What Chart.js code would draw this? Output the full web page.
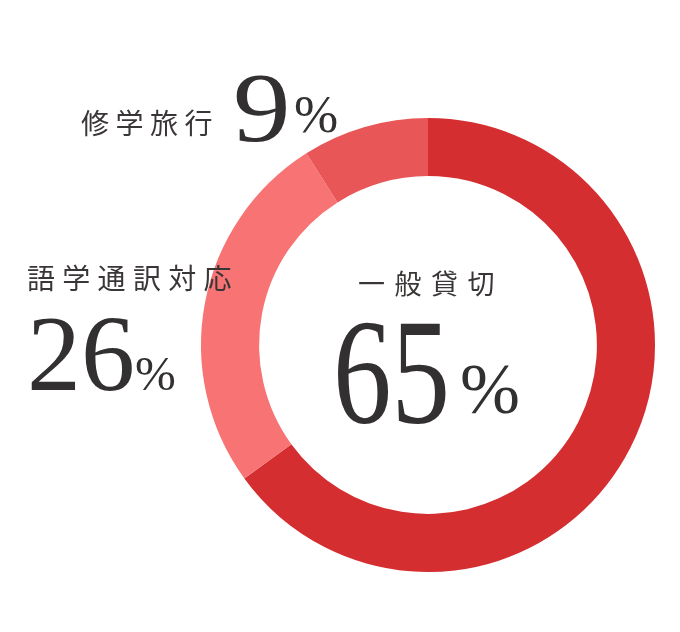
<!DOCTYPE html>
<html><head><meta charset="utf-8">
<script src="https://cdn.jsdelivr.net/npm/chart.js@4.4.0/dist/chart.umd.min.js"></script>
<style>
html,body{margin:0;padding:0;background:#fff;}
#wrap{position:relative;width:680px;height:632px;overflow:hidden;}
canvas{position:absolute;left:0;top:0;}
.t{position:absolute;white-space:nowrap;line-height:1;color:#333031;}
.jp{font-family:"Noto Sans CJK JP","Noto Sans",sans-serif;font-weight:400;color:#3a3636;}
.num{font-family:"Liberation Serif","DejaVu Serif",serif;}
</style></head>
<body><div id="wrap">
<canvas id="c" width="680" height="632"></canvas>
<div class="t jp" id="l0"></div>
<div class="t num" id="n0"></div>
<div class="t num" id="p0"></div>
<div class="t jp" id="l1"></div>
<div class="t num" id="n1"></div>
<div class="t num" id="p1"></div>
<div class="t jp" id="l2"></div>
<div class="t num" id="n2"></div>
<div class="t num" id="p2"></div>
</div>
<script>
const categories = ["一般貸切", "語学通訳対応", "修学旅行"];
const values = [65, 26, 9];
const colors = ["#d42e31", "#f87374", "#e85657"];

new Chart(document.getElementById('c'), {
  type: 'doughnut',
  data: { labels: categories, datasets: [{ data: values, backgroundColor: colors, borderWidth: 0, hoverOffset: 0 }] },
  options: {
    responsive: false, animation: false, cutout: '74.4%',
    layout: { padding: { left: 201, right: 25, top: 118, bottom: 60 } },
    plugins: { legend: { display: false }, tooltip: { enabled: false } }
  }
});

function place(id, text, css){ const e=document.getElementById(id); e.textContent=text; Object.assign(e.style, css); }
// 一般貸切
place('l0', categories[0], {left:'358px', top:'269px', fontSize:'27px', letterSpacing:'9.5px'});
place('n0', String(values[0]), {left:'333px', top:'297px', fontSize:'150px', transform:'scaleX(0.78)', transformOrigin:'left top'});
place('p0', '%', {left:'460px', top:'353px', fontSize:'72px'});
// 語学通訳対応
place('l1', categories[1], {left:'27px', top:'263px', fontSize:'28px', letterSpacing:'7.3px'});
place('n1', String(values[1]), {left:'27px', top:'300px', fontSize:'108px'});
place('p1', '%', {left:'135px', top:'349px', fontSize:'49px'});
// 修学旅行
place('l2', categories[2], {left:'81px', top:'108px', fontSize:'28px', letterSpacing:'6.5px'});
place('n2', String(values[2]), {left:'233px', top:'58px', fontSize:'100px', transform:'scaleX(1.15)', transformOrigin:'left top'});
place('p2', '%', {left:'294px', top:'88px', fontSize:'53px'});
</script>
</body></html>
